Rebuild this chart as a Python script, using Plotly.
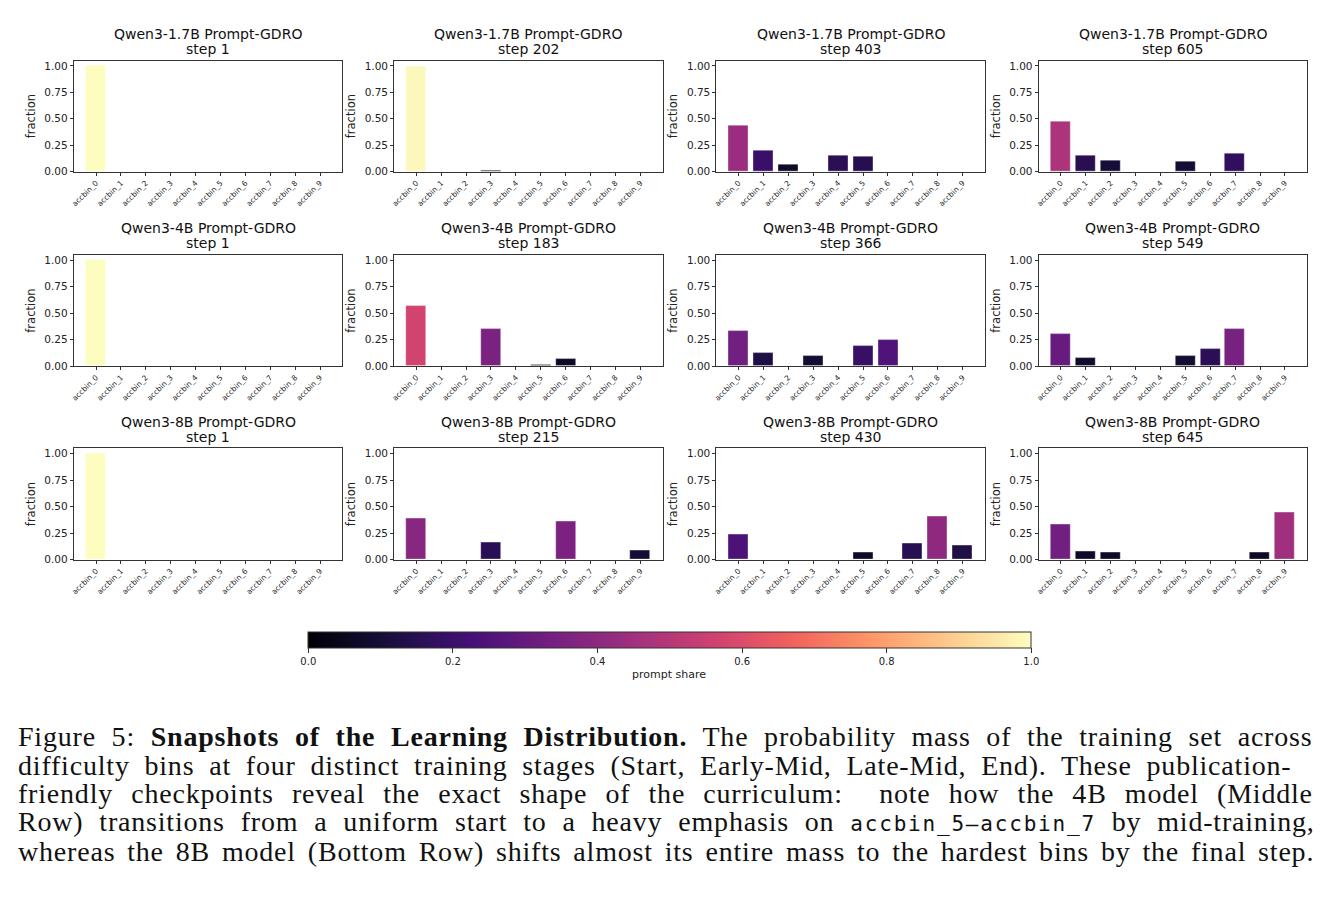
import plotly.graph_objects as go

W, H = 1333, 901

bins = [f"accbin_{i}" for i in range(10)]

models = ["Qwen3-1.7B", "Qwen3-4B", "Qwen3-8B"]
steps = [[1, 202, 403, 605], [1, 183, 366, 549], [1, 215, 430, 645]]

# fractions per model (rows) and snapshot (cols)
q17_s1 = [1.00, 0, 0, 0, 0, 0, 0, 0, 0, 0]
q17_s202 = [0.99, 0, 0, 0.01, 0, 0, 0, 0, 0, 0]
q17_s403 = [0.434, 0.197, 0.072, 0, 0.156, 0.147, 0, 0, 0, 0]
q17_s605 = [0.475, 0.153, 0.103, 0, 0, 0.097, 0, 0.175, 0, 0]

q4_s1 = [1.00, 0, 0, 0, 0, 0, 0, 0, 0, 0]
q4_s183 = [0.569, 0, 0, 0.355, 0, 0.007, 0.063, 0, 0, 0]
q4_s366 = [0.331, 0.125, 0, 0.094, 0, 0.19, 0.25, 0, 0, 0]
q4_s549 = [0.306, 0.078, 0, 0, 0, 0.094, 0.16, 0.347, 0, 0]

q8_s1 = [1.00, 0, 0, 0, 0, 0, 0, 0, 0, 0]
q8_s215 = [0.386, 0, 0, 0.159, 0, 0, 0.356, 0, 0, 0.091]
q8_s430 = [0.241, 0, 0, 0, 0, 0.069, 0, 0.15, 0.406, 0.131]
q8_s645 = [0.331, 0.075, 0.066, 0, 0, 0, 0, 0, 0.066, 0.45]

data = [
    [q17_s1, q17_s202, q17_s403, q17_s605],
    [q4_s1, q4_s183, q4_s366, q4_s549],
    [q8_s1, q8_s215, q8_s430, q8_s645],
]

y_ticks = [0, 0.25, 0.5, 0.75, 1.0]
y_ticklabels = ["0.00", "0.25", "0.50", "0.75", "1.00"]
cbar_ticks = [0, 0.2, 0.4, 0.6, 0.8, 1.0]

MONO = "<span style=\"font-family:'DejaVu Sans Mono';font-size:21px;letter-spacing:1.8px\">accbin_5–accbin_7</span>"
caption_lines = [
    "Figure 5: <b>Snapshots of the Learning Distribution.</b> The probability mass of the training set across",
    "difficulty bins at four distinct training stages (Start, Early-Mid, Late-Mid, End). These publication-",
    "friendly checkpoints reveal the exact shape of the curriculum:  note how the 4B model (Middle",
    "Row) transitions from a uniform start to a heavy emphasis on " + MONO + " by mid-training,",
    "whereas the 8B model (Bottom Row) shifts almost its entire mass to the hardest bins by the final step.",
]
caption_word_spacing = [7.9, 7.0, 10.4, 8.1, 4.1]

# layout geometry (pixels)
col_left = [71, 392, 715, 1038]
panel_w = 269
row_top = [60, 256, 451]
panel_h = 112

fig = go.Figure()
FONT = "DejaVu Sans"
annotations = []

k = 0
for r in range(3):
    for c in range(4):
        k += 1
        xa = "x" if k == 1 else f"x{k}"
        ya = "y" if k == 1 else f"y{k}"
        vals = data[r][c]
        fig.add_trace(go.Bar(
            x=list(range(10)), y=vals, xaxis=xa, yaxis=ya, width=0.8,
            marker=dict(color=vals, colorscale="Magma", cmin=0, cmax=1,
                        line=dict(color="rgba(255,255,255,0.45)", width=0.8),
                        showscale=(k == 1),
                        colorbar=dict(
                            orientation="h", lenmode="pixels", len=723,
                            thickness=16, x=306 / W, xanchor="left",
                            y=1 - 636 / H, yanchor="top", xpad=0, ypad=0,
                            outlinecolor="#333", outlinewidth=1,
                            tickvals=cbar_ticks,
                            ticktext=[f"{t:.1f}" for t in cbar_ticks],
                            ticks="outside", ticklen=5, tickcolor="#333",
                            tickfont=dict(family=FONT, size=10, color="#222"),
                        )),
            showlegend=False, hoverinfo="y",
        ))
        x0 = col_left[c] / W
        x1 = (col_left[c] + panel_w) / W
        y1 = 1 - row_top[r] / H
        y0 = 1 - (row_top[r] + panel_h) / H
        axcommon = dict(showline=True, linecolor="#333", linewidth=1, mirror=True,
                        ticks="outside", ticklen=3, tickcolor="#333",
                        showgrid=False, zeroline=False)
        fig.layout[f"xaxis{'' if k == 1 else k}"] = dict(
            domain=[x0, x1], anchor=ya, range=[-0.89, 9.89],
            tickvals=list(range(10)), ticktext=bins, tickangle=-45,
            tickfont=dict(family=FONT, size=7.5, color="#222"), **axcommon)
        fig.layout[f"yaxis{'' if k == 1 else k}"] = dict(
            domain=[y0, y1], anchor=xa, range=[0, 1.05],
            tickvals=y_ticks, ticktext=y_ticklabels,
            tickfont=dict(family=FONT, size=10.5, color="#222"),
            title=dict(text="fraction", font=dict(family=FONT, size=11.5, color="#222"), standoff=6),
            **axcommon)
        cx = (col_left[c] + panel_w / 2) / W
        annotations.append(dict(
            text=f"{models[r]} Prompt-GDRO", x=cx, y=1 - (row_top[r] - 27) / H,
            xref="paper", yref="paper", xanchor="center", yanchor="middle",
            showarrow=False, font=dict(family=FONT, size=14, color="#111")))
        annotations.append(dict(
            text=f"step {steps[r][c]}", x=cx, y=1 - (row_top[r] - 12) / H,
            xref="paper", yref="paper", xanchor="center", yanchor="middle",
            showarrow=False, font=dict(family=FONT, size=14, color="#111")))

annotations.append(dict(
    text="prompt share", x=(306 + 723 / 2) / W, y=1 - 679 / H,
    xref="paper", yref="paper", xanchor="center", yanchor="middle",
    showarrow=False, font=dict(family=FONT, size=11, color="#222")))

line_y = [741, 770, 799, 827, 857]
for ly, txt, ws in zip(line_y, caption_lines, caption_word_spacing):
    annotations.append(dict(
        text=f"<span style=\"word-spacing:{ws}px;letter-spacing:0.8px\">{txt}</span>",
        x=13 / W, y=1 - ly / H, xref="paper", yref="paper",
        xanchor="left", yanchor="middle", showarrow=False,
        font=dict(family="Liberation Serif", size=28, color="#111")))

fig.update_layout(
    width=W, height=H, margin=dict(l=0, r=0, t=0, b=0),
    paper_bgcolor="white", plot_bgcolor="white",
    bargap=0, annotations=annotations,
)

fig.write_html("out.html")
